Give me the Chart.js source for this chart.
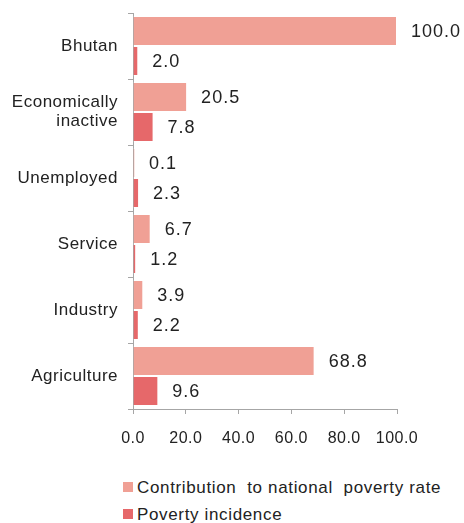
<!DOCTYPE html>
<html>
<head>
<meta charset="utf-8">
<script src="https://cdn.jsdelivr.net/npm/chart.js@4.4.0/dist/chart.umd.min.js"></script>
<style>
    body { margin: 0; background: #fff; }
    #wrap { position: relative; width: 464px; height: 523px; overflow: hidden; }
    #legend { position: absolute; left: 123px; top: 477px; font-family: "Liberation Sans", sans-serif; font-size: 17px; letter-spacing: 0.65px; color: #222; }
    #legend div { height: 27px; line-height: 21px; white-space: nowrap; }
    #legend span.box { display: inline-block; width: 10px; height: 10px; margin-right: 4px; vertical-align: 1px; }
</style>
</head>
<body>
<div id="wrap">
    <canvas id="myChart" width="464" height="460"></canvas>
    <div id="legend"></div>
</div>
<script>
const categories = ['Bhutan', ['Economically', 'inactive'], 'Unemployed', 'Service', 'Industry', 'Agriculture'];
const contribution = [100.0, 20.5, 0.1, 6.7, 3.9, 68.8];
const incidence = [2.0, 7.8, 2.3, 1.2, 2.2, 9.6];
const seriesNames = ['Contribution  to national  poverty rate', 'Poverty incidence'];
const xTicks = [0, 20, 40, 60, 80, 100];

const colors = ['#F0A095', '#E6686A'];
const gray = '#A6A6A6';

// slightly spaced-out text for the axis labels
const spacing = {
    id: 'spacing',
    beforeLayout(chart) { chart.ctx.letterSpacing = '0.5px'; },
    beforeDraw(chart) { chart.ctx.letterSpacing = '0.5px'; }
};

// value labels to the right of each bar
const valueLabels = {
    id: 'valueLabels',
    afterDatasetsDraw(chart) {
        const ctx = chart.ctx;
        ctx.save();
        ctx.letterSpacing = '1px';
        ctx.font = '18px "Liberation Sans", sans-serif';
        ctx.fillStyle = '#222';
        ctx.textAlign = 'left';
        ctx.textBaseline = 'middle';
        chart.data.datasets.forEach((ds, i) => {
            chart.getDatasetMeta(i).data.forEach((bar, j) => {
                ctx.fillText(ds.data[j].toFixed(1), bar.x + 14, bar.y + 1);
            });
        });
        ctx.restore();
    }
};

const chartData = {
    labels: categories,
    datasets: [{
        label: seriesNames[0],
        data: contribution,
        backgroundColor: colors[0],
        borderColor: 'rgba(255,255,255,0.5)',
        borderWidth: 1,
        minBarLength: 2,
        categoryPercentage: 0.91,
        barPercentage: 1
    },
    {
        label: seriesNames[1],
        data: incidence,
        backgroundColor: colors[1],
        borderColor: 'rgba(255,255,255,0.5)',
        borderWidth: 1,
        minBarLength: 2,
        categoryPercentage: 0.91,
        barPercentage: 1
    }]
};

const config = {
    type: 'bar',
    data: chartData,
    options: {
        indexAxis: 'y',
        responsive: false,
        animation: false,
        layout: {
            padding: { top: 13, right: 67, left: 0, bottom: 0 }
        },
        scales: {
            x: {
                min: 0,
                max: 100,
                afterBuildTicks: scale => { scale.ticks = xTicks.map(v => ({ value: v })); },
                afterFit: scale => { scale.height = 51; },
                ticks: {
                    padding: 15,
                    color: '#222',
                    font: { family: '"Liberation Sans", sans-serif', size: 16 },
                    callback: v => Number(v).toFixed(1)
                },
                grid: { drawOnChartArea: false, tickLength: 5, color: gray },
                border: { color: gray, width: 1 }
            },
            y: {
                afterFit: scale => {
                    scale.width = 133;
                    scale.paddingTop = 0;
                    scale.paddingBottom = 0;
                },
                ticks: {
                    padding: 10,
                    color: '#222',
                    font: { family: '"Liberation Sans", sans-serif', size: 17, lineHeight: 1.1 }
                },
                grid: { drawOnChartArea: false, tickLength: 5, offset: true, color: gray },
                border: { color: gray, width: 1 }
            }
        },
        plugins: {
            legend: { display: false },
            tooltip: { enabled: false }
        }
    },
    plugins: [spacing, valueLabels]
};

const chart = new Chart(document.getElementById('myChart'), config);

// legend stacked under the axis
const legend = document.getElementById('legend');
chartData.datasets.forEach(ds => {
    const row = document.createElement('div');
    row.innerHTML = '<span class="box" style="background:' + ds.backgroundColor + '"></span>' + ds.label.replace(/ /g, '&nbsp;');
    legend.appendChild(row);
});
</script>
</body>
</html>
